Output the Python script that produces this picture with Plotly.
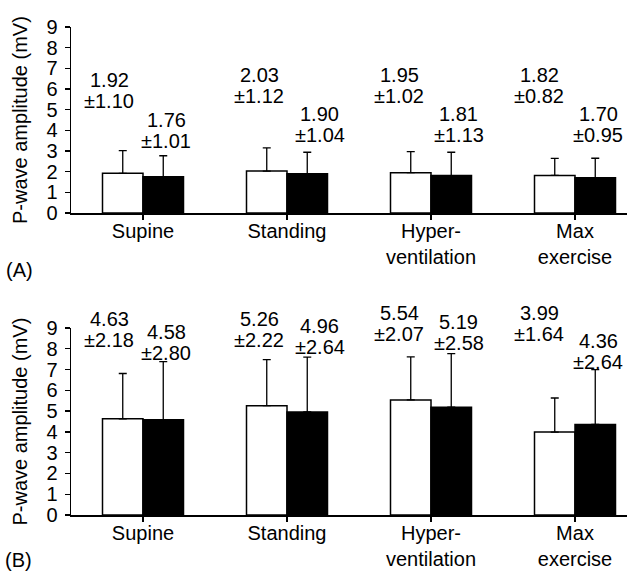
import plotly.graph_objects as go

categories = ["Supine", "Standing", "Hyper-<br>ventilation", "Max<br>exercise"]
y_ticks = [0, 1, 2, 3, 4, 5, 6, 7, 8, 9]

# Panel A
a_white_mean = [1.92, 2.03, 1.95, 1.82]
a_white_sd = [1.10, 1.12, 1.02, 0.82]
a_black_mean = [1.76, 1.90, 1.81, 1.70]
a_black_sd = [1.01, 1.04, 1.13, 0.95]

# Panel B
b_white_mean = [4.63, 5.26, 5.54, 3.99]
b_white_sd = [2.18, 2.22, 2.07, 1.64]
b_black_mean = [4.58, 4.96, 5.19, 4.36]
b_black_sd = [2.80, 2.64, 2.58, 2.64]

# label placement (layout, in axis units)
lab_dx_white = [-0.236, -0.194, -0.222, -0.25]
lab_dx_black = [0.160, 0.229, 0.194, 0.160]
a_lab_y_white = [5.93, 6.19, 6.19, 6.19]
a_lab_y_black = [3.97, 4.26, 4.26, 4.26]
b_lab_y_white = [8.95, 8.95, 9.24, 9.24]
b_lab_y_black = [8.32, 8.61, 8.76, 7.89]

FONT = "Liberation Sans, Arial, Helvetica, sans-serif"
FS = 20
W, H = 627, 579
Y_MAX = 9
xs = list(range(len(categories)))

fig = go.Figure()

def add_panel(white_m, white_s, black_m, black_s, xa, ya):
    for m, s, col in ((white_m, white_s, "white"), (black_m, black_s, "black")):
        fig.add_trace(go.Bar(
            x=xs, y=m, xaxis=xa, yaxis=ya,
            marker=dict(color=col, line=dict(color="black", width=1.5)),
            error_y=dict(type="data", symmetric=False, array=s,
                         arrayminus=[0] * len(s), color="black",
                         thickness=1.3, width=4),
            showlegend=False, hoverinfo="skip",
        ))

add_panel(a_white_mean, a_white_sd, a_black_mean, a_black_sd, "x", "y")
add_panel(b_white_mean, b_white_sd, b_black_mean, b_black_sd, "x2", "y2")

x0_px = 71
cat_px = 144
x_left = -0.5
x_right = (W - (x0_px + cat_px / 2)) / cat_px
xdom = [x0_px / W, 1]

axis_common_x = dict(
    range=[x_left, x_right], tickmode="array", tickvals=xs, ticktext=categories,
    tickson="boundaries", ticks="outside", ticklen=5, tickwidth=1.3,
    tickcolor="black", showline=True, linecolor="black", linewidth=1.5,
    showgrid=False, zeroline=False, automargin=False, ticklabelstandoff=-6,
    tickfont=dict(family=FONT, size=FS, color="black"), domain=xdom,
)
axis_common_y = dict(
    range=[0, Y_MAX], tickmode="array", tickvals=y_ticks, ticks="outside",
    ticklen=5, tickwidth=1.3, tickcolor="black", showline=True,
    linecolor="black", linewidth=1.5, showgrid=False, zeroline=False,
    automargin=False, ticklabelstandoff=3,
    tickfont=dict(family=FONT, size=FS, color="black"),
)

top_dom = [1 - 213 / H, 1 - 27 / H]
bot_dom = [1 - 515 / H, 1 - 328 / H]

fig.update_layout(
    width=W, height=H, margin=dict(l=0, r=0, t=0, b=0),
    paper_bgcolor="white", plot_bgcolor="white",
    barmode="group", bargap=0.4375, bargroupgap=0,
    xaxis=dict(**axis_common_x, anchor="y"),
    yaxis=dict(**axis_common_y, domain=top_dom, anchor="x"),
    xaxis2=dict(**axis_common_x, anchor="y2"),
    yaxis2=dict(**axis_common_y, domain=bot_dom, anchor="x2"),
    font=dict(family=FONT, size=FS, color="black"),
)

def add_labels(wm, ws, bm, bs, wy, by, xr, yr):
    for i in range(len(xs)):
        for m, s, dx, y in ((wm[i], ws[i], lab_dx_white[i], wy[i]),
                            (bm[i], bs[i], lab_dx_black[i], by[i])):
            for txt, sh in ((f"{m:.2f}", 10.5), (f"\u00b1{s:.2f}", -10.5)):
                fig.add_annotation(x=i + dx, y=y / Y_MAX, xref=xr,
                                   yref=yr + " domain", text=txt,
                                   showarrow=False, xanchor="center",
                                   yanchor="middle", yshift=sh,
                                   font=dict(family=FONT, size=FS, color="black"))

add_labels(a_white_mean, a_white_sd, a_black_mean, a_black_sd,
           a_lab_y_white, a_lab_y_black, "x", "y")
add_labels(b_white_mean, b_white_sd, b_black_mean, b_black_sd,
           b_lab_y_white, b_lab_y_black, "x2", "y2")

for dom in (top_dom, bot_dom):
    fig.add_annotation(x=20 / W, y=(dom[0] + dom[1]) / 2, xref="paper",
                       yref="paper", text="P-wave amplitude (mV)",
                       textangle=-90, showarrow=False, xanchor="center",
                       yanchor="middle",
                       font=dict(family=FONT, size=FS, color="black"))

fig.add_annotation(x=4 / W, y=1 - 270 / H, xref="paper", yref="paper",
                   text="(A)", showarrow=False, xanchor="left",
                   yanchor="middle", font=dict(family=FONT, size=FS, color="black"))
fig.add_annotation(x=3 / W, y=1 - 560 / H, xref="paper", yref="paper",
                   text="(B)", showarrow=False, xanchor="left",
                   yanchor="middle", font=dict(family=FONT, size=FS, color="black"))

fig.write_html("out.html",
               config={"displayModeBar": False, "staticPlot": True},
               post_script="document.body.style.margin='0px';"
                           "document.body.style.overflow='hidden';")
